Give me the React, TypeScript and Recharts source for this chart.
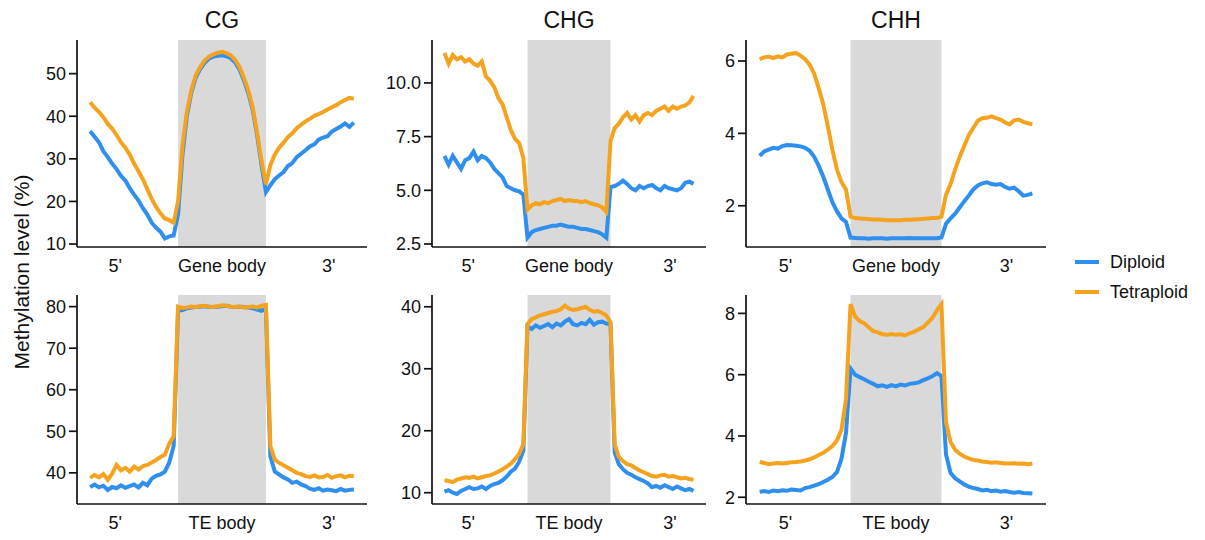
import React from 'react';
import { LineChart, Line, XAxis, YAxis, ReferenceArea } from 'recharts';

// ---- styling ----
const FONT = '"Liberation Sans", Arial, Helvetica, sans-serif';
const BLUE = '#2E8FEE';
const ORANGE = '#F5A31F';
const INK = '#111';
const BODY_FILL = '#D9D9D9';

// ---- bins: 0-20 = 5' flank, 20-40 = body, 40-60 = 3' flank ----
const BINS = Array.from({ length: 61 }, (_, i) => i);
const BODY = [20, 40];
const X_DOMAIN = [-3, 63];
const X_TICKS = [5.7, 30, 54.3];

const CONTEXTS = ['CG', 'CHG', 'CHH'];
const SERIES = ['Diploid', 'Tetraploid'];
const GENE_LABELS = ["5'", 'Gene body', "3'"];
const TE_LABELS = ["5'", 'TE body', "3'"];

// ---- gene panels ----
const CG_GENE_DIPLOID = [
  36.5, 35.2, 33.9, 31.8, 30.4, 28.9, 27.6, 26.0, 24.9, 23.1, 21.6, 20.2, 18.4, 16.9, 15.0, 13.8, 12.9, 11.3, 11.8, 12.0,
  17.0, 31.0, 40.0, 45.5, 49.0, 51.0, 52.5, 53.5, 54.0, 54.2, 54.3, 54.1, 53.6, 52.6, 50.9, 48.4, 45.4, 41.4, 35.5, 28.5,
  22.2, 23.8, 25.2, 26.1, 26.9, 28.3, 29.0, 30.4, 31.2, 32.0, 32.9, 33.4, 34.5, 35.0, 35.3, 36.4, 37.0, 37.6, 38.3, 37.5, 38.5,
];
const CG_GENE_TETRAPLOID = [
  43.3, 42.0, 41.0, 39.8, 38.2, 37.1, 35.6, 33.9, 32.6, 31.0, 28.9, 27.1, 25.2, 22.9, 20.6, 18.7, 17.2, 16.0, 15.6, 15.0,
  20.0, 33.0, 41.0, 46.0, 49.5, 51.5, 53.0, 54.0, 54.5, 54.9, 55.1, 54.8, 54.3, 53.2, 51.5, 49.0, 46.0, 42.0, 36.0, 29.5,
  24.0, 28.5, 31.0, 32.6, 33.8, 35.1, 36.0, 37.2, 38.0, 38.8, 39.4, 40.1, 40.5, 41.0, 41.6, 42.1, 42.6, 43.3, 43.8, 44.3, 44.1,
];
const CHG_GENE_DIPLOID = [
  6.6, 6.2, 6.6, 6.3, 6.0, 6.4, 6.5, 6.8, 6.4, 6.6, 6.5, 6.3, 6.0, 5.8, 5.6, 5.2, 5.1, 5.0, 4.95, 4.8,
  2.8, 3.05, 3.15, 3.2, 3.25, 3.3, 3.35, 3.35, 3.4, 3.35, 3.3, 3.3, 3.25, 3.2, 3.2, 3.15, 3.1, 3.05, 2.95, 2.8,
  5.15, 5.2, 5.3, 5.45, 5.3, 5.1, 5.0, 5.2, 5.1, 5.2, 5.25, 5.1, 5.0, 5.2, 5.1, 5.05, 5.0, 5.1, 5.35, 5.4, 5.3,
];
const CHG_GENE_TETRAPLOID = [
  11.4, 10.9, 11.3, 11.1, 11.2, 11.0, 11.1, 10.9, 10.8, 11.0, 10.3, 10.1, 9.8, 9.3, 9.0, 8.4, 7.8, 7.4, 7.2, 6.5,
  4.1, 4.3, 4.4, 4.35, 4.45, 4.4, 4.5, 4.55, 4.6, 4.5, 4.55, 4.5, 4.5, 4.45, 4.5, 4.4, 4.35, 4.3, 4.2, 4.0,
  7.3, 7.9, 8.1, 8.4, 8.6, 8.3, 8.5, 8.2, 8.5, 8.6, 8.5, 8.7, 8.8, 8.9, 8.7, 8.9, 8.8, 8.9, 8.95, 9.1, 9.4,
];
const CHH_GENE_DIPLOID = [
  3.38, 3.5, 3.55, 3.6, 3.58, 3.65, 3.68, 3.67, 3.66, 3.64, 3.6, 3.52, 3.35, 3.1, 2.8, 2.45, 2.1, 1.85, 1.65, 1.55,
  1.12, 1.11, 1.1, 1.1, 1.09, 1.1, 1.1, 1.1, 1.09, 1.1, 1.1, 1.1, 1.1, 1.11, 1.1, 1.1, 1.1, 1.1, 1.1, 1.1,
  1.12, 1.5, 1.65, 1.78, 1.95, 2.12, 2.28, 2.45, 2.56, 2.62, 2.65, 2.6, 2.58, 2.6, 2.52, 2.47, 2.5, 2.4, 2.28, 2.3, 2.34,
];
const CHH_GENE_TETRAPLOID = [
  6.05, 6.1, 6.12, 6.08, 6.13, 6.1, 6.18, 6.2, 6.22, 6.15, 6.05, 5.9, 5.65, 5.25, 4.8, 4.2, 3.55, 3.0, 2.65, 2.45,
  1.7, 1.66, 1.65, 1.64, 1.63, 1.62, 1.62, 1.61, 1.6, 1.6, 1.6, 1.6, 1.61, 1.61, 1.62, 1.63, 1.64, 1.65, 1.66, 1.66,
  1.7, 2.3, 2.6, 3.0, 3.35, 3.65, 3.95, 4.15, 4.35, 4.42, 4.43, 4.47, 4.42, 4.38, 4.3, 4.25, 4.36, 4.38, 4.32, 4.28, 4.25,
];

// ---- TE panels ----
const CG_TE_DIPLOID = [
  36.6, 37.2, 36.5, 36.9, 35.9, 36.6, 36.3, 37.0, 36.4, 36.8, 37.2, 36.5, 37.6, 37.0, 38.6, 39.3, 39.6, 40.3, 42.5, 46.5,
  79.0, 79.2, 79.6, 79.8, 79.9, 80.0, 80.1, 80.0, 79.9, 80.0, 80.1, 80.2, 80.0, 79.9, 80.0, 79.9, 79.8, 79.6, 79.3, 79.0,
  79.5, 44.0, 40.3, 39.6, 38.9, 38.4, 37.6, 37.9, 37.2, 36.8, 36.2, 35.9, 36.3, 35.7, 36.0, 35.8, 35.6, 36.1, 35.7, 35.9, 36.0,
];
const CG_TE_TETRAPLOID = [
  38.8, 39.5, 38.9, 39.7, 38.3, 39.8, 41.9, 40.6, 41.2, 40.3, 41.5, 40.8, 41.6, 41.9, 42.5, 43.1, 43.8, 44.4, 47.0, 48.8,
  80.0, 79.7, 79.8, 80.0, 79.9, 80.1, 80.2, 80.0, 79.9, 80.1, 80.3, 80.2, 80.0, 79.9, 80.0, 79.8, 79.9, 80.0, 79.8, 80.2,
  80.4, 46.5, 43.2, 42.4, 41.8, 41.2, 40.6, 40.0, 39.7, 39.2, 39.0, 39.4, 38.9, 39.0, 39.5, 38.8, 39.2, 39.4, 38.9, 39.3, 39.2,
];
const CHG_TE_DIPLOID = [
  10.2, 10.4, 10.0, 9.8, 10.3, 10.6, 10.9, 10.6, 10.7, 11.0, 10.6, 11.1, 11.4, 11.6, 12.0, 12.6, 13.4, 13.9, 15.0, 16.8,
  36.8, 36.4, 37.0, 36.6, 36.9, 37.2, 36.7, 37.3, 37.0, 37.6, 38.0, 37.2, 37.0, 37.4, 37.2, 37.9, 37.1, 37.5, 37.6, 37.3,
  37.2, 16.5, 14.6, 13.8, 13.2, 12.9, 12.5, 12.2, 11.9, 11.5, 10.9, 11.1, 10.8, 11.2, 10.9, 10.6, 11.0, 10.7, 10.4, 10.6, 10.3,
];
const CHG_TE_TETRAPLOID = [
  12.0, 11.9, 11.7, 12.1, 12.3, 12.5, 12.4, 12.6, 12.3, 12.5, 12.7, 12.8, 13.1, 13.4, 13.8, 14.2, 14.7, 15.4, 16.3, 17.8,
  37.2, 38.0, 38.3, 38.6, 38.8, 39.0, 39.2, 39.3, 39.6, 40.2, 39.7, 39.5, 39.6, 39.8, 40.0, 39.5, 39.2, 39.3, 39.0, 38.6,
  37.5, 17.8, 15.8, 15.1, 14.6, 14.4, 14.0, 13.6, 13.3, 13.0, 12.7, 12.6, 12.8, 12.9, 12.6, 12.7, 12.5, 12.3, 12.4, 12.2, 12.1,
];
const CHH_TE_DIPLOID = [
  2.18, 2.2, 2.17, 2.22, 2.2, 2.23, 2.21, 2.25, 2.24, 2.22, 2.3, 2.33, 2.38, 2.43, 2.5, 2.57, 2.66, 2.82, 3.25, 4.1,
  6.2, 6.0, 5.92, 5.85, 5.77, 5.7, 5.62, 5.65, 5.6, 5.66, 5.62, 5.68, 5.65, 5.7, 5.72, 5.75, 5.82, 5.88, 5.95, 6.05,
  5.95, 3.4, 2.8, 2.62, 2.52, 2.42, 2.35, 2.3, 2.27, 2.22, 2.24, 2.2, 2.22, 2.18, 2.2, 2.17, 2.15, 2.17, 2.14, 2.13, 2.12,
];
const CHH_TE_TETRAPLOID = [
  3.15, 3.12, 3.08, 3.1, 3.12, 3.1, 3.12, 3.14, 3.15, 3.17, 3.2, 3.24, 3.3, 3.38, 3.45, 3.55, 3.67, 3.85, 4.2, 5.2,
  8.3, 7.9, 7.75, 7.68, 7.55, 7.42, 7.38, 7.32, 7.3, 7.33, 7.3, 7.32, 7.28, 7.35, 7.4, 7.48, 7.55, 7.7, 7.85, 8.1,
  8.3, 4.45, 3.8, 3.55, 3.42, 3.33, 3.27, 3.22, 3.2, 3.17, 3.15, 3.13, 3.14, 3.12, 3.1, 3.1, 3.11, 3.09, 3.1, 3.08, 3.1,
];

// ---- y axes ----
const CG_GENE_TICKS = [10, 20, 30, 40, 50];
const CHG_GENE_TICKS = [2.5, 5, 7.5, 10];
const CHH_GENE_TICKS = [2, 4, 6];
const CG_TE_TICKS = [40, 50, 60, 70, 80];
const CHG_TE_TICKS = [10, 20, 30, 40];
const CHH_TE_TICKS = [2, 4, 6, 8];

const CG_GENE_RANGE = [9.3, 57.9];
const CHG_GENE_RANGE = [2.36, 12.0];
const CHH_GENE_RANGE = [0.86, 6.58];
const CG_TE_RANGE = [32.5, 82.8];
const CHG_TE_RANGE = [8.18, 41.9];
const CHH_TE_RANGE = [1.78, 8.6];

// ---- layout (plot-area pixels) ----
const COLS = [
  { left: 77, right: 367 },
  { left: 432, right: 706 },
  { left: 746, right: 1046 },
];
const ROWS = [
  { top: 40, bottom: 247 },
  { top: 295, bottom: 504 },
];
const YW = 70;
const XH = 36;

const PANELS = [
  { row: 0, col: 0, dip: CG_GENE_DIPLOID, tet: CG_GENE_TETRAPLOID, ticks: CG_GENE_TICKS, range: CG_GENE_RANGE, labels: GENE_LABELS, dec: 0 },
  { row: 0, col: 1, dip: CHG_GENE_DIPLOID, tet: CHG_GENE_TETRAPLOID, ticks: CHG_GENE_TICKS, range: CHG_GENE_RANGE, labels: GENE_LABELS, dec: 1 },
  { row: 0, col: 2, dip: CHH_GENE_DIPLOID, tet: CHH_GENE_TETRAPLOID, ticks: CHH_GENE_TICKS, range: CHH_GENE_RANGE, labels: GENE_LABELS, dec: 0 },
  { row: 1, col: 0, dip: CG_TE_DIPLOID, tet: CG_TE_TETRAPLOID, ticks: CG_TE_TICKS, range: CG_TE_RANGE, labels: TE_LABELS, dec: 0 },
  { row: 1, col: 1, dip: CHG_TE_DIPLOID, tet: CHG_TE_TETRAPLOID, ticks: CHG_TE_TICKS, range: CHG_TE_RANGE, labels: TE_LABELS, dec: 0 },
  { row: 1, col: 2, dip: CHH_TE_DIPLOID, tet: CHH_TE_TETRAPLOID, ticks: CHH_TE_TICKS, range: CHH_TE_RANGE, labels: TE_LABELS, dec: 0 },
];

function Panel({ p }: { p: (typeof PANELS)[number] }) {
  const c = COLS[p.col];
  const r = ROWS[p.row];
  const w = c.right - c.left;
  const h = r.bottom - r.top;
  const data = BINS.map((b, i) => ({ bin: b, dip: p.dip[i], tet: p.tet[i] }));

  return (
    <div style={{ position: 'absolute', left: c.left - YW, top: r.top }}>
      <LineChart width={w + YW} height={h + XH} data={data} margin={{ top: 0, right: 0, bottom: 0, left: 0 }}>
        <ReferenceArea x1={BODY[0]} x2={BODY[1]} fill={BODY_FILL} fillOpacity={1} stroke="none" />
        <XAxis
          type="number"
          dataKey="bin"
          domain={X_DOMAIN}
          ticks={X_TICKS}
          allowDataOverflow
          interval={0}
          height={XH}
          tickLine={false}
          tickSize={7}
          tickMargin={5}
          axisLine={{ stroke: INK, strokeWidth: 1.7 }}
          tick={{ fill: INK, fontSize: 18, fontFamily: FONT }}
          tickFormatter={(v: number) => p.labels[X_TICKS.indexOf(v)]}
        />
        <YAxis
          type="number"
          domain={p.range}
          ticks={p.ticks}
          allowDataOverflow
          interval={0}
          width={YW}
          tickSize={8}
          tickMargin={3}
          axisLine={{ stroke: INK, strokeWidth: 1.7 }}
          tickLine={{ stroke: INK, strokeWidth: 1.7 }}
          tick={{ fill: INK, fontSize: 18, fontFamily: FONT }}
          tickFormatter={(v: number) => v.toFixed(p.dec)}
        />
        <Line type="linear" dataKey="dip" name={SERIES[0]} stroke={BLUE} strokeWidth={4} dot={false} activeDot={false} isAnimationActive={false} />
        <Line type="linear" dataKey="tet" name={SERIES[1]} stroke={ORANGE} strokeWidth={4} dot={false} activeDot={false} isAnimationActive={false} />
      </LineChart>
    </div>
  );
}

export default function App() {
  return (
    <div style={{ position: 'absolute', left: 0, top: 0, width: 1205, height: 540, background: '#fff', fontFamily: FONT }}>
      <svg width={1205} height={540} style={{ position: 'absolute', left: 0, top: 0 }}>
        {CONTEXTS.map((t, i) => (
          <text key={t} x={(COLS[i].left + COLS[i].right) / 2} y={28} textAnchor="middle" fontSize={23} fill={INK} fontFamily={FONT}>
            {t}
          </text>
        ))}
        <text transform="translate(29,272) rotate(-90)" textAnchor="middle" fontSize={21} fill={INK} fontFamily={FONT}>
          Methylation level (%)
        </text>
        {SERIES.map((s, i) => (
          <g key={s}>
            <line x1={1075} x2={1099} y1={262 + i * 30} y2={262 + i * 30} stroke={i === 0 ? BLUE : ORANGE} strokeWidth={4} />
            <text x={1110} y={262 + i * 30} dominantBaseline="central" fontSize={18} fill={INK} fontFamily={FONT}>
              {s}
            </text>
          </g>
        ))}
      </svg>
      {PANELS.map((p, i) => (
        <Panel key={i} p={p} />
      ))}
    </div>
  );
}
